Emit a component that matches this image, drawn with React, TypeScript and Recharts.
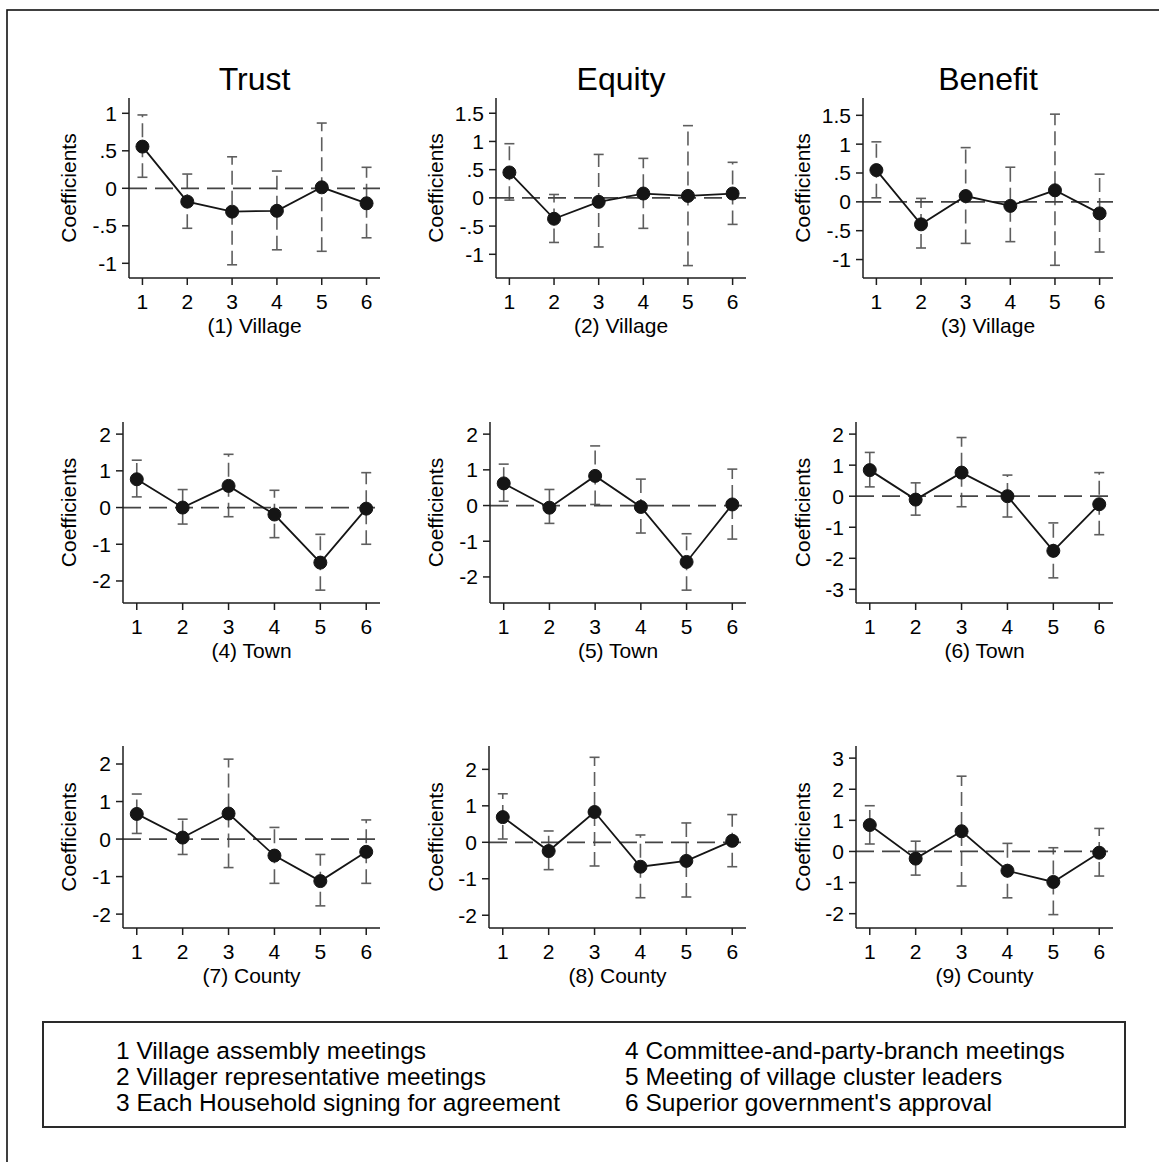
import React from 'react';
import { ComposedChart, Line, XAxis, YAxis, ReferenceLine, ErrorBar } from 'recharts';

// ---------- data ----------
const categories = [1, 2, 3, 4, 5, 6];

const trustVillageCoef = [0.556, -0.178, -0.311, -0.3, 0.013, -0.2];
const trustVillageLo = [0.147, -0.533, -1.02, -0.82, -0.84, -0.66];
const trustVillageHi = [0.978, 0.19, 0.42, 0.23, 0.87, 0.28];

const equityVillageCoef = [0.45, -0.37, -0.07, 0.077, 0.035, 0.077];
const equityVillageLo = [-0.04, -0.79, -0.87, -0.54, -1.2, -0.47];
const equityVillageHi = [0.96, 0.06, 0.77, 0.7, 1.28, 0.63];

const benefitVillageCoef = [0.55, -0.39, 0.1, -0.07, 0.2, -0.2];
const benefitVillageLo = [0.07, -0.8, -0.72, -0.69, -1.1, -0.87];
const benefitVillageHi = [1.04, 0.06, 0.94, 0.6, 1.52, 0.48];

const trustTownCoef = [0.77, 0.0, 0.59, -0.19, -1.5, -0.03];
const trustTownLo = [0.29, -0.45, -0.25, -0.82, -2.25, -1.0];
const trustTownHi = [1.29, 0.49, 1.45, 0.47, -0.73, 0.95];

const equityTownCoef = [0.62, -0.06, 0.83, -0.04, -1.58, 0.03];
const equityTownLo = [0.12, -0.5, 0.03, -0.77, -2.37, -0.94];
const equityTownHi = [1.16, 0.45, 1.67, 0.74, -0.79, 1.02];

const benefitTownCoef = [0.84, -0.11, 0.76, 0.0, -1.76, -0.26];
const benefitTownLo = [0.3, -0.61, -0.34, -0.67, -2.63, -1.24];
const benefitTownHi = [1.41, 0.43, 1.89, 0.68, -0.86, 0.76];

const trustCountyCoef = [0.67, 0.04, 0.68, -0.44, -1.12, -0.34];
const trustCountyLo = [0.15, -0.41, -0.76, -1.18, -1.78, -1.18];
const trustCountyHi = [1.2, 0.53, 2.13, 0.31, -0.41, 0.51];

const equityCountyCoef = [0.69, -0.24, 0.83, -0.67, -0.51, 0.04];
const equityCountyLo = [0.09, -0.75, -0.65, -1.52, -1.5, -0.67];
const equityCountyHi = [1.33, 0.31, 2.33, 0.2, 0.53, 0.76];

const benefitCountyCoef = [0.85, -0.23, 0.65, -0.62, -0.98, -0.04];
const benefitCountyLo = [0.24, -0.76, -1.11, -1.49, -2.03, -0.79];
const benefitCountyHi = [1.47, 0.33, 2.42, 0.26, 0.12, 0.74];

const columnTitles = ['Trust', 'Equity', 'Benefit'];
const panelLabels = [
  '(1) Village', '(2) Village', '(3) Village',
  '(4) Town', '(5) Town', '(6) Town',
  '(7) County', '(8) County', '(9) County',
];
const yTicksVillageA = [-1, -0.5, 0, 0.5, 1];
const yTicksVillageB = [-1, -0.5, 0, 0.5, 1, 1.5];
const yTicksTwo = [-2, -1, 0, 1, 2];
const yTicksTownBenefit = [-3, -2, -1, 0, 1, 2];
const yTicksCountyBenefit = [-2, -1, 0, 1, 2, 3];

const legendLeft = [
  '1 Village assembly meetings',
  '2 Villager representative meetings',
  '3 Each Household signing for agreement',
];
const legendRight = [
  '4 Committee-and-party-branch meetings',
  '5 Meeting of village cluster leaders',
  "6 Superior government's approval",
];

const seriesList = [
  [trustVillageCoef, trustVillageLo, trustVillageHi],
  [equityVillageCoef, equityVillageLo, equityVillageHi],
  [benefitVillageCoef, benefitVillageLo, benefitVillageHi],
  [trustTownCoef, trustTownLo, trustTownHi],
  [equityTownCoef, equityTownLo, equityTownHi],
  [benefitTownCoef, benefitTownLo, benefitTownHi],
  [trustCountyCoef, trustCountyLo, trustCountyHi],
  [equityCountyCoef, equityCountyLo, equityCountyHi],
  [benefitCountyCoef, benefitCountyLo, benefitCountyHi],
];
const yTickList = [
  yTicksVillageA, yTicksVillageB, yTicksVillageB,
  yTicksTwo, yTicksTwo, yTicksTownBenefit,
  yTicksTwo, yTicksTwo, yTicksCountyBenefit,
];
const yDomainList: [number, number][] = [
  [-1.196, 1.204], [-1.42, 1.77], [-1.32, 1.8],
  [-2.6, 2.33], [-2.73, 2.34], [-3.44, 2.39],
  [-2.37, 2.48], [-2.35, 2.64], [-2.46, 3.39],
];

// ---------- layout ----------
const rowTop = [98, 422, 746];
const rowAxis = [278, 603, 928];
const colRight = [380, 746, 1113];
const colLabelX = [69, 436, 803];
const axisXGrid = [
  [129, 496, 863],
  [123, 490, 856],
  [123, 489, 856],
];
const colCenter = [254.5, 621, 988];

const FONT = '"Liberation Sans", Arial, Helvetica, sans-serif';
const AXIS_COLOR = '#1e1e1e';
const CI_COLOR = '#5e5e5e';
const ZERO_COLOR = '#444444';
const MARKER_COLOR = '#151515';
const TICK_FONT = 21;
const MARGIN_TOP = 10;
const MARGIN_RIGHT = 12;
const XAXIS_H = 96;

const fmtTick = (v: number) => String(v).replace(/^(-?)0\./, '$1.');

function Panel({ idx }: { idx: number }) {
  const r = Math.floor(idx / 3);
  const c = idx % 3;
  const [coef, lo, hi] = seriesList[idx];
  const data = categories.map((x, i) => ({
    x,
    coef: coef[i],
    err: [coef[i] - lo[i], hi[i] - coef[i]],
  }));
  const axisX = axisXGrid[r][c];
  const yW = 2 * (axisX - colLabelX[c]);
  const left = axisX - yW;
  const plotW = colRight[c] - axisX;
  const plotH = rowAxis[r] - rowTop[r];
  const width = yW + plotW + MARGIN_RIGHT;
  const height = MARGIN_TOP + plotH + XAXIS_H;
  return (
    <div style={{ position: 'absolute', left, top: rowTop[r] - MARGIN_TOP, width, height }}>
      <ComposedChart
        width={width}
        height={height}
        data={data}
        margin={{ top: MARGIN_TOP, right: MARGIN_RIGHT, bottom: 0, left: 0 }}
      >
        <XAxis
          type="number"
          dataKey="x"
          domain={[0.7, 6.3]}
          ticks={categories}
          allowDataOverflow
          height={XAXIS_H}
          tickSize={7}
          tickMargin={9}
          axisLine={{ stroke: AXIS_COLOR, strokeWidth: 1.5 }}
          tickLine={{ stroke: AXIS_COLOR, strokeWidth: 1.5 }}
          tick={{ fontSize: TICK_FONT, fill: '#000' }}
          label={{ value: panelLabels[idx], position: 'center', fontSize: TICK_FONT, fill: '#000' }}
        />
        <YAxis
          type="number"
          domain={yDomainList[idx]}
          ticks={yTickList[idx]}
          allowDataOverflow
          interval={0}
          width={yW}
          tickSize={7}
          tickMargin={5}
          tickFormatter={fmtTick}
          axisLine={{ stroke: AXIS_COLOR, strokeWidth: 1.5 }}
          tickLine={{ stroke: AXIS_COLOR, strokeWidth: 1.5 }}
          tick={{ fontSize: TICK_FONT, fill: '#000' }}
          label={{ value: 'Coefficients', angle: -90, position: 'center', fontSize: TICK_FONT, fill: '#000' }}
        />
        <Line
          dataKey="coef"
          stroke="none"
          dot={false}
          activeDot={false}
          isAnimationActive={false}
          legendType="none"
        >
          <ErrorBar
            dataKey="err"
            width={5}
            stroke={CI_COLOR}
            strokeWidth={1.6}
            strokeDasharray="14 6"
            direction="y"
            isAnimationActive={false}
          />
        </Line>
        <ReferenceLine y={0} stroke={ZERO_COLOR} strokeWidth={1.7} strokeDasharray="18 8" />
        <Line
          dataKey="coef"
          stroke={MARKER_COLOR}
          strokeWidth={1.8}
          dot={{ r: 6.5, fill: MARKER_COLOR, stroke: MARKER_COLOR, strokeWidth: 1 }}
          activeDot={false}
          isAnimationActive={false}
        />
      </ComposedChart>
    </div>
  );
}

export default function App() {
  return (
    <div
      style={{
        position: 'absolute',
        left: 0,
        top: 0,
        width: 1159,
        height: 1162,
        overflow: 'hidden',
        background: '#fff',
        fontFamily: FONT,
      }}
    >
      <svg
        width={1159}
        height={1162}
        style={{ position: 'absolute', left: 0, top: 0, fontFamily: FONT }}
      >
        <rect x={7} y={10} width={1300} height={1300} fill="none" stroke="#111" strokeWidth={1.6} />
        {columnTitles.map((t, i) => (
          <text key={t} x={colCenter[i]} y={90} textAnchor="middle" fontSize={32} fill="#000">
            {t}
          </text>
        ))}
        <rect x={43} y={1022} width={1082} height={105} fill="none" stroke="#2a2a2a" strokeWidth={2} />
        {legendLeft.map((t, i) => (
          <text key={t} x={116} y={1058.5 + i * 26} fontSize={24.5} fill="#000">
            {t}
          </text>
        ))}
        {legendRight.map((t, i) => (
          <text key={t} x={625} y={1058.5 + i * 26} fontSize={24.5} fill="#000">
            {t}
          </text>
        ))}
      </svg>
      {seriesList.map((_, i) => (
        <Panel key={i} idx={i} />
      ))}
    </div>
  );
}
